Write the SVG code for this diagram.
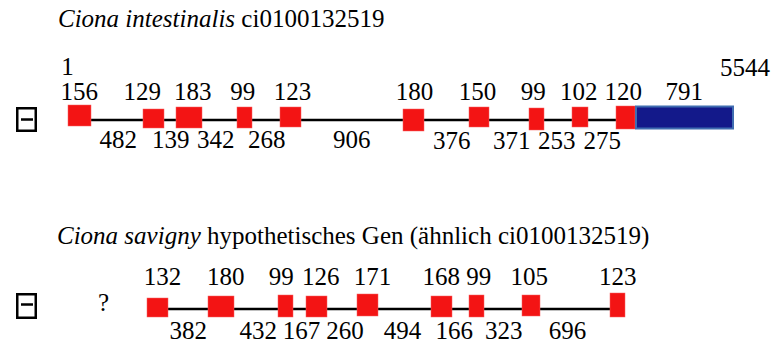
<svg xmlns="http://www.w3.org/2000/svg" width="771" height="344" viewBox="0 0 771 344">
<style>
text{font-family:"Liberation Serif","Times New Roman",serif;font-size:25px;fill:#000}
.l{text-anchor:middle}
.ex{fill:#f31414;stroke:#f86060;stroke-width:0.5}
.utr{fill:#13198a;stroke:#3f6cb0;stroke-width:2}
.ln{stroke:#000;stroke-width:2.5;fill:none}
.ic{fill:#fff;stroke:#000;stroke-width:2.5}
.mn{stroke:#000;stroke-width:2.5}
</style>
<rect width="771" height="344" fill="#fff"/>
<g id="title1"><text x="58" y="27"><tspan font-style="italic">Ciona intestinalis</tspan> ci0100132519</text></g>
<g id="title2"><text x="57" y="244"><tspan font-style="italic">Ciona savigny</tspan> hypothetisches Gen (ähnlich ci0100132519)</text></g>
<g id="connectors">
<line class="ln" x1="90" y1="120" x2="635" y2="120"/>
<line class="ln" x1="167" y1="309" x2="611" y2="309"/>
</g>
<g id="icon1"><rect class="ic" x="17.25" y="108.25" width="18.5" height="22.5"/><line class="mn" x1="21" y1="119.5" x2="33" y2="119.5"/></g>
<g id="icon2"><rect class="ic" x="17.25" y="294.25" width="18.5" height="23.5"/><line class="mn" x1="21" y1="304.5" x2="33" y2="304.5"/></g>
<g id="gene1">
<rect class="ex" x="68" y="105" width="23" height="21"/>
<rect class="ex" x="143" y="109" width="21" height="19"/>
<rect class="ex" x="176" y="107" width="26" height="21"/>
<rect class="ex" x="237" y="107" width="15" height="21"/>
<rect class="ex" x="280" y="107" width="21" height="20"/>
<rect class="ex" x="403" y="109" width="21" height="22"/>
<rect class="ex" x="469" y="107" width="20" height="20"/>
<rect class="ex" x="529" y="108" width="15" height="22"/>
<rect class="ex" x="572" y="107" width="16" height="20"/>
<rect class="ex" x="616" y="106" width="19" height="23"/>
<rect class="utr" x="636" y="106.5" width="97" height="22"/>
</g>
<g id="labels1">
<text class="l" x="67.5" y="75">1</text>
<text class="l" x="745" y="76">5544</text>
<text class="l" x="79.2" y="100">156</text>
<text class="l" x="142.2" y="100">129</text>
<text class="l" x="192.8" y="100">183</text>
<text class="l" x="242.8" y="100">99</text>
<text class="l" x="292.5" y="100">123</text>
<text class="l" x="414.5" y="100">180</text>
<text class="l" x="477.5" y="100">150</text>
<text class="l" x="533.3" y="100">99</text>
<text class="l" x="578.8" y="100">102</text>
<text class="l" x="623.3" y="100">120</text>
<text class="l" x="684.2" y="100">791</text>
<text class="l" x="118.3" y="148">482</text>
<text class="l" x="170.8" y="148">139</text>
<text class="l" x="215.8" y="148">342</text>
<text class="l" x="266.7" y="148">268</text>
<text class="l" x="351.7" y="148">906</text>
<text class="l" x="451.7" y="149">376</text>
<text class="l" x="511.7" y="149">371</text>
<text class="l" x="556.8" y="149">253</text>
<text class="l" x="602.2" y="149">275</text>
</g>
<g id="gene2">
<rect class="ex" x="147" y="298" width="21" height="19"/>
<rect class="ex" x="208" y="296" width="26" height="21"/>
<rect class="ex" x="278" y="295" width="15" height="22"/>
<rect class="ex" x="306" y="296" width="21" height="21"/>
<rect class="ex" x="357" y="294" width="21" height="22"/>
<rect class="ex" x="431" y="296" width="21" height="21"/>
<rect class="ex" x="469" y="295" width="15" height="22"/>
<rect class="ex" x="522" y="295" width="18" height="21"/>
<rect class="ex" x="610" y="293" width="15" height="24"/>
</g>
<g id="labels2">
<text class="l" x="103.5" y="311">?</text>
<text class="l" x="162.5" y="285">132</text>
<text class="l" x="225.8" y="285">180</text>
<text class="l" x="281.3" y="285">99</text>
<text class="l" x="320.8" y="285">126</text>
<text class="l" x="372.5" y="285">171</text>
<text class="l" x="441.3" y="285">168</text>
<text class="l" x="478.7" y="285">99</text>
<text class="l" x="529.2" y="285">105</text>
<text class="l" x="617.8" y="285">123</text>
<text class="l" x="188.3" y="339">382</text>
<text class="l" x="258.3" y="339">432</text>
<text class="l" x="301.5" y="339">167</text>
<text class="l" x="345" y="339">260</text>
<text class="l" x="402.5" y="339">494</text>
<text class="l" x="454.2" y="339">166</text>
<text class="l" x="503.8" y="339">323</text>
<text class="l" x="567.5" y="339">696</text>
</g>
</svg>
